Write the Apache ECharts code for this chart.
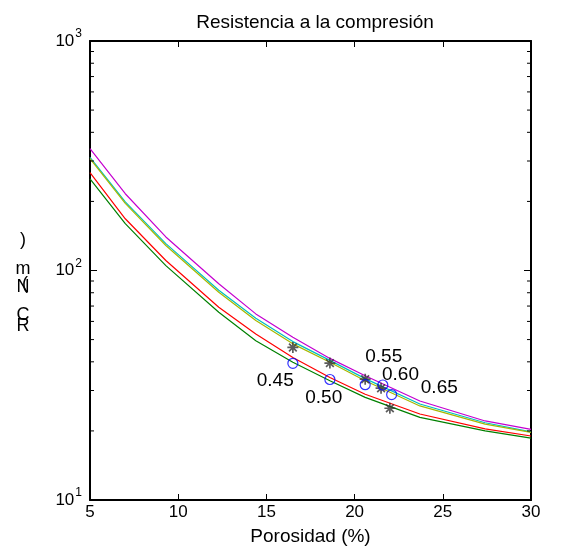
<!DOCTYPE html>
<html><head><meta charset="utf-8">
<script src="https://cdn.jsdelivr.net/npm/echarts@6/dist/echarts.min.js"></script>
<style>html,body{margin:0;padding:0;background:#fff}#c{width:563px;height:552px}</style>
</head><body><div id="c"></div>
<script>
// ---- data ----
const porosity = [5, 7, 9.3, 12.3, 14.4, 16.5, 18.6, 20.6, 23.7, 27.4, 30];
const curveMagenta = [340, 216, 140, 87.5, 64.7, 51.2, 41.4, 34.8, 27.0, 22.1, 20.3];
const curveCyan    = [311, 199, 131, 82.0, 62.0, 49.0, 40.6, 33.8, 26.2, 21.7, 19.8];
const curveOlive   = [307, 196, 128.5, 80.4, 60.5, 47.9, 39.8, 33.1, 25.7, 21.4, 19.7];
const curveRed     = [267, 168, 110.6, 69.2, 52.9, 41.8, 34.2, 28.9, 23.7, 20.4, 19.0];
const curveGreen   = [251, 160, 105, 65.8, 49.4, 39.8, 33.1, 28.0, 22.9, 20.0, 18.6];
const starX = [16.5, 18.6, 20.6, 21.5, 22.0];
const starY = [46.2, 39.5, 33.6, 30.7, 25.1];
const circX = [16.5, 18.6, 20.6, 21.6, 22.1];
const circY = [39.4, 33.5, 31.8, 31.7, 28.8];
const labelTexts = ['0.45', '0.50', '0.55', '0.60', '0.65'];
const labelX = [15.5, 18.25, 21.65, 22.6, 24.8];
const labelY = [33.1, 28.0, 42.1, 35.2, 30.8];
const yMinorTicks = [20,30,40,50,60,70,80,90,200,300,400,500,600,700,800,900];
const titleText = 'Resistencia a la compresión';
const xName = 'Porosidad (%)';
const yNameChars = [')', 'm', '(', 'N', 'C', 'R'];

const FONT = '"Liberation Sans", Arial, sans-serif';
const chart = echarts.init(document.getElementById('c'), null, {renderer: 'canvas'});

function supLabel(v) {
  const e = Math.round(Math.log10(v));
  return '{b|10}{s|' + e + '}';
}
const pairs = (xs, ys) => xs.map((x, i) => [x, ys[i]]);
const lineSeries = (name, ys, color) => ({
  type: 'line', name, data: pairs(porosity, ys), symbol: 'none', smooth: false,
  lineStyle: {color, width: 1.2}, itemStyle: {color}, silent: true, z: 3
});

const yNamePos = [[23, 240], [23, 269], [25, 284], [23, 287], [23, 315], [23, 326]];

const option = {
  animation: false,
  backgroundColor: '#fff',
  title: {
    text: titleText, left: 310, top: 8, textAlign: 'center',
    textStyle: {fontFamily: FONT, fontSize: 19, fontWeight: 'normal', color: '#000'}
  },
  grid: {left: 90, right: 32, top: 41, bottom: 52, containLabel: false},
  xAxis: [{
    type: 'value', min: 5, max: 30, interval: 5, position: 'bottom',
    name: xName, nameLocation: 'middle', nameGap: 27,
    nameTextStyle: {fontFamily: FONT, fontSize: 19, color: '#000'},
    axisLine: {show: true, onZero: false, lineStyle: {color: '#000', width: 2}},
    axisTick: {show: true, inside: true, length: 6, lineStyle: {color: '#000', width: 1}},
    axisLabel: {fontFamily: FONT, fontSize: 17, color: '#000', margin: 4},
    splitLine: {show: false}
  }, {
    type: 'value', min: 5, max: 30, interval: 5, position: 'top',
    axisLine: {show: true, onZero: false, lineStyle: {color: '#000', width: 2}},
    axisTick: {show: true, inside: true, length: 6, lineStyle: {color: '#000', width: 1}},
    axisLabel: {show: false}, splitLine: {show: false}
  }],
  yAxis: [{
    type: 'log', logBase: 10, min: 10, max: 1000, position: 'left',
    axisLine: {show: true, onZero: false, lineStyle: {color: '#000', width: 2}},
    axisTick: {show: true, inside: true, length: 7, lineStyle: {color: '#000', width: 1}},
    axisLabel: {
      fontFamily: FONT, color: '#000', margin: 8, formatter: supLabel,
      rich: {
        b: {fontFamily: FONT, fontSize: 17, color: '#000'},
        s: {fontFamily: FONT, fontSize: 12, color: '#000', padding: [0, 0, 14, 1]}
      }
    },
    splitLine: {show: false}
  }, {
    type: 'log', logBase: 10, min: 10, max: 1000, position: 'right',
    axisLine: {show: true, onZero: false, lineStyle: {color: '#000', width: 2}},
    axisTick: {show: true, inside: true, length: 7, lineStyle: {color: '#000', width: 1}},
    axisLabel: {show: false}, splitLine: {show: false}
  }],
  graphic: yNameChars.map((ch, i) => ({
    type: 'text', x: yNamePos[i][0], y: yNamePos[i][1],
    style: {text: ch, fontFamily: FONT, fontSize: 18, fill: '#000', align: 'center', verticalAlign: 'middle'}
  })),
  series: [
    {
      type: 'custom', silent: true, z: 6,
      data: yMinorTicks.map(v => [5, v]),
      encode: {x: 0, y: 1},
      renderItem(params, api) {
        const v = api.value(1);
        const pl = api.coord([5, v]);
        const pr = api.coord([30, v]);
        return {type: 'group', children: [
          {type: 'line', shape: {x1: pl[0], y1: pl[1], x2: pl[0] + 4, y2: pl[1]}, style: {stroke: '#000', lineWidth: 1}},
          {type: 'line', shape: {x1: pr[0], y1: pr[1], x2: pr[0] - 4, y2: pr[1]}, style: {stroke: '#000', lineWidth: 1}}
        ]};
      }
    },
    lineSeries('green', curveGreen, '#008000'),
    lineSeries('red', curveRed, '#ff0000'),
    lineSeries('cyan', curveCyan, '#00bfbf'),
    lineSeries('olive', curveOlive, '#a8b800'),
    lineSeries('magenta', curveMagenta, '#c400d0'),
    {
      type: 'scatter', name: 'stars', data: pairs(starX, starY), z: 5, silent: true,
      symbol: 'path://M0 5 L10 5 M5 0 L5 10 M1.5 1.5 L8.5 8.5 M8.5 1.5 L1.5 8.5',
      symbolSize: 11,
      itemStyle: {color: 'rgba(0,0,0,0)', borderColor: '#333333', borderWidth: 1.7}
    },
    {
      type: 'scatter', name: 'circles', data: pairs(circX, circY), z: 5, silent: true,
      symbol: 'circle', symbolSize: 10,
      itemStyle: {color: 'rgba(0,0,0,0)', borderColor: '#0000ff', borderWidth: 1.2}
    },
    {
      type: 'scatter', name: 'labels', z: 7, silent: true, symbolSize: 0,
      itemStyle: {color: '#000'},
      data: labelTexts.map((t, i) => ({name: t, value: [labelX[i], labelY[i]]})),
      label: {show: true, position: 'inside', formatter: p => p.name,
        fontFamily: FONT, fontSize: 19, color: '#000', textBorderWidth: 0, opacity: 1}
    }
  ]
};
chart.setOption(option);
</script>
</body></html>
